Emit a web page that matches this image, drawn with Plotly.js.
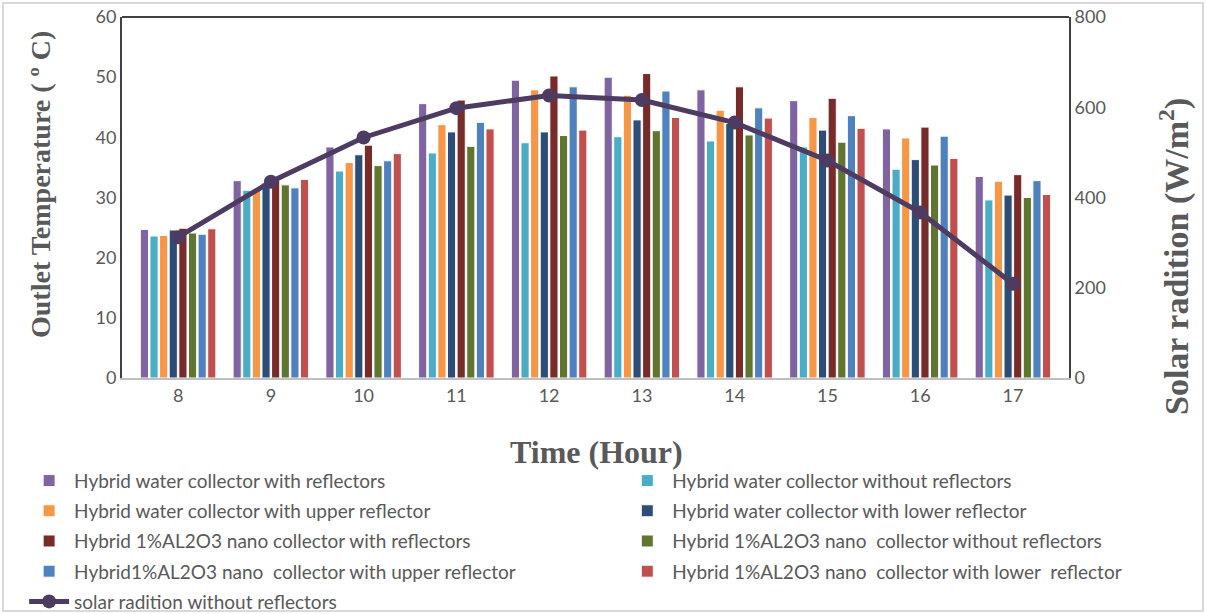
<!DOCTYPE html>
<html><head><meta charset="utf-8">
<script src="https://cdn.plot.ly/plotly-3.0.1.min.js"></script>
<style>html,body{margin:0;padding:0;background:#fff}#chart{width:1206px;height:614px}</style>
</head><body><div id="chart"></div>
<script>
const hours = ["8","9","10","11","12","13","14","15","16","17"];
const waterWithReflectors   = [24.7, 32.8, 38.4, 45.6, 49.5, 50.0, 47.9, 46.1, 41.4, 33.5];
const waterWithout          = [23.6, 31.2, 34.4, 37.4, 39.1, 40.1, 39.4, 38.4, 34.7, 29.6];
const waterUpper            = [23.7, 31.4, 35.8, 42.1, 47.9, 47.0, 44.5, 43.3, 39.9, 32.7];
const waterLower            = [24.6, 32.4, 37.1, 40.9, 40.9, 42.9, 42.3, 41.2, 36.3, 30.4];
const nanoWithReflectors    = [24.9, 32.9, 38.7, 46.2, 50.2, 50.6, 48.4, 46.5, 41.7, 33.8];
const nanoWithout           = [24.1, 32.1, 35.3, 38.5, 40.3, 41.1, 40.4, 39.2, 35.4, 30.0];
const nanoUpper             = [23.9, 31.6, 36.1, 42.5, 48.4, 47.7, 44.9, 43.6, 40.2, 32.8];
const nanoLower             = [24.8, 33.0, 37.3, 41.4, 41.2, 43.3, 43.2, 41.5, 36.5, 30.5];
const solarRadiation        = [312, 435, 533, 598, 626, 616, 566, 482, 367, 209];

const seriesNames = [
  "Hybrid water collector with reflectors",
  "Hybrid water collector without reflectors",
  "Hybrid water collector with upper reflector",
  "Hybrid water collector with lower reflector",
  "Hybrid 1%AL2O3 nano collector with reflectors",
  "Hybrid 1%AL2O3 nano  collector without reflectors",
  "Hybrid1%AL2O3 nano  collector with upper reflector",
  "Hybrid 1%AL2O3 nano  collector with lower  reflector"
];
const seriesValues = [waterWithReflectors, waterWithout, waterUpper, waterLower,
                      nanoWithReflectors, nanoWithout, nanoUpper, nanoLower];
const seriesColors = ["#8064a2","#4bacc6","#f79646","#2c4d75","#772c2a","#5f7530","#4f81bd","#c0504d"];
const lineName = "solar radition without reflectors";
const xTitle = "Time (Hour)";
const yTitle = "Outlet Temperature ( º C)";
const y2Title = "Solar radition (W/m<sup>2</sup>)";

const traces = seriesValues.map((v, i) => ({
  type: "bar", x: hours, y: v, name: seriesNames[i],
  marker: {color: seriesColors[i], line: {color: "#ffffff", width: 1}},
  yaxis: "y",
  legend: (i % 2 === 0) ? "legend" : "legend2",
  legendgroup: "g" + i
}));
traces.push({
  type: "scatter", mode: "lines+markers", x: hours, y: solarRadiation, name: lineName,
  yaxis: "y2", line: {color: "#4e3b62", width: 5}, marker: {color: "#4e3b62", size: 14},
  legend: "legend", legendgroup: "g8"
});

const M = {l: 122, r: 137, t: 17, b: 236, autoexpand: false};
const W = 1206, H = 614;
const pw = W - M.l - M.r, ph = H - M.t - M.b;
const px = v => (v - M.l) / pw;
const py = v => (H - M.b - v) / ph;

const tickFont = {family: "Lato, 'Open Sans', sans-serif", size: 18, color: "#595959"};
const titleFont = {family: "'Liberation Serif', 'Times New Roman', serif", size: 28, color: "#595959", weight: "bold"};
const legendFont = {family: "Lato, 'Open Sans', sans-serif", size: 19, color: "#595959"};
const legendCommon = {
  orientation: "v", xref: "container", yref: "container",
  xanchor: "left", yanchor: "top", itemwidth: 40,
  font: legendFont, traceorder: "grouped", tracegroupgap: 2.5,
  bgcolor: "rgba(0,0,0,0)"
};
const layout = {
  width: W, height: H,
  margin: M,
  paper_bgcolor: "#ffffff", plot_bgcolor: "#ffffff",
  barmode: "group", bargap: 0.17, bargroupgap: 0.15,
  showlegend: true,
  legend: Object.assign({}, legendCommon, {x: 0.02, y: 0.248}),
  legend2: Object.assign({}, legendCommon, {x: 0.516, y: 0.248}),
  xaxis: {
    type: "category", showgrid: false, zeroline: false,
    showline: true, linecolor: "#bfbfbf", linewidth: 2,
    ticks: "", tickfont: tickFont
  },
  yaxis: {
    range: [0, 60], dtick: 10, showgrid: false, zeroline: false,
    showline: true, linecolor: "#404040", linewidth: 2,
    ticks: "", tickfont: tickFont
  },
  yaxis2: {
    range: [0, 800], dtick: 200, overlaying: "y", side: "right",
    showgrid: false, zeroline: false,
    showline: true, linecolor: "#404040", linewidth: 2,
    ticks: "", tickfont: tickFont
  },
  annotations: [
    {text: xTitle, xref: "paper", yref: "paper", x: px(596), y: py(452),
     xanchor: "center", yanchor: "middle", showarrow: false,
     font: Object.assign({}, titleFont, {size: 32})},
    {text: yTitle, xref: "paper", yref: "paper", x: px(40), y: py(185),
     xanchor: "center", yanchor: "middle", showarrow: false, textangle: -90,
     font: titleFont},
    {text: y2Title, xref: "paper", yref: "paper", x: px(1174), y: py(257),
     xanchor: "center", yanchor: "middle", showarrow: false, textangle: -90,
     font: Object.assign({}, titleFont, {size: 34})}
  ],
  shapes: [
    {type: "line", xref: "paper", yref: "paper", x0: 0, x1: 1, y0: 1, y1: 1,
     line: {color: "#404040", width: 2}},
    {type: "rect", xref: "paper", yref: "paper",
     x0: px(3), x1: px(1203), y0: py(611), y1: py(3),
     line: {color: "#d9d9d9", width: 2}, fillcolor: "rgba(0,0,0,0)", layer: "below"}
  ]
};

Plotly.newPlot("chart", traces, layout, {displayModeBar: false, staticPlot: true});
</script>
</body></html>
